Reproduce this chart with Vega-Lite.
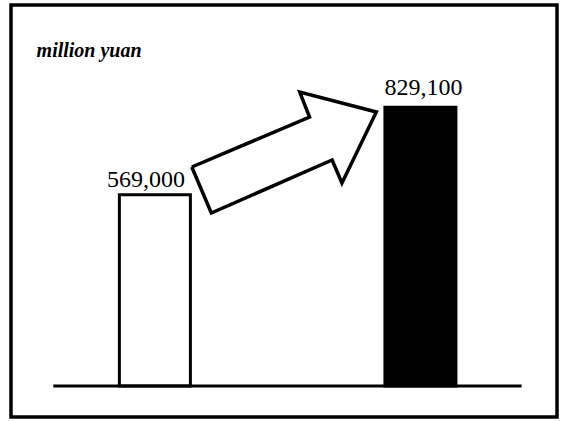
{
  "$schema": "https://vega.github.io/schema/vega-lite/v6.json",
  "width": 561,
  "height": 421,
  "autosize": {"type": "fit", "contains": "padding"},
  "padding": {"left": 11, "top": 5, "right": 4, "bottom": 4},
  "background": "white",
  "config": {
    "view": {"stroke": "black", "strokeWidth": 3.5},
    "text": {"font": "Liberation Serif", "color": "black"}
  },
  "datasets": {
    "bars": [
      {"pos": 1, "value": 569000, "label": "569,000"},
      {"pos": 3, "value": 829100, "label": "829,100"}
    ],
    "arrow": [
      {"k": 1, "x": 1.278, "y": 651500},
      {"k": 2, "x": 1.425, "y": 514700},
      {"k": 3, "x": 2.335, "y": 672300},
      {"k": 4, "x": 2.409, "y": 603900},
      {"k": 5, "x": 2.668, "y": 815200},
      {"k": 6, "x": 2.091, "y": 874600},
      {"k": 7, "x": 2.165, "y": 800300},
      {"k": 8, "x": 1.278, "y": 651500}
    ],
    "one": [{"note": "million yuan"}]
  },
  "layer": [
    {
      "data": {"name": "bars"},
      "mark": {"type": "bar", "width": 71, "stroke": "black", "strokeWidth": 3},
      "encoding": {
        "x": {"field": "pos", "type": "quantitative", "axis": null, "scale": {"domain": [-0.046, 3.991], "nice": false, "zero": false}},
        "y": {"field": "value", "type": "quantitative", "axis": null, "scale": {"domain": [-92225, 1133475], "nice": false, "zero": false}},
        "fill": {"field": "label", "type": "nominal", "legend": null, "scale": {"domain": ["569,000", "829,100"], "range": ["white", "black"]}}
      }
    },
    {
      "data": {"name": "one"},
      "mark": {"type": "rule", "stroke": "black", "strokeWidth": 3},
      "encoding": {
        "x": {"datum": 0.235, "type": "quantitative", "axis": null, "scale": {"domain": [-0.046, 3.991], "nice": false, "zero": false}},
        "x2": {"datum": 3.762},
        "y": {"datum": 0, "type": "quantitative", "axis": null, "scale": {"domain": [-92225, 1133475], "nice": false, "zero": false}}
      }
    },
    {
      "data": {"name": "arrow"},
      "mark": {"type": "line", "stroke": "black", "strokeWidth": 3.5, "strokeJoin": "miter"},
      "encoding": {
        "x": {"field": "x", "type": "quantitative", "axis": null, "scale": {"domain": [-0.046, 3.991], "nice": false, "zero": false}},
        "y": {"field": "y", "type": "quantitative", "axis": null, "scale": {"domain": [-92225, 1133475], "nice": false, "zero": false}},
        "order": {"field": "k", "type": "quantitative"}
      }
    },
    {
      "data": {"name": "bars"},
      "transform": [{"filter": "datum.pos == 1"}],
      "mark": {"type": "text", "fontSize": 24, "align": "center", "baseline": "alphabetic", "dx": -9, "dy": -8},
      "encoding": {
        "x": {"field": "pos", "type": "quantitative", "axis": null, "scale": {"domain": [-0.046, 3.991], "nice": false, "zero": false}},
        "y": {"field": "value", "type": "quantitative", "axis": null, "scale": {"domain": [-92225, 1133475], "nice": false, "zero": false}},
        "text": {"field": "label"}
      }
    },
    {
      "data": {"name": "bars"},
      "transform": [{"filter": "datum.pos == 3"}],
      "mark": {"type": "text", "fontSize": 24, "align": "center", "baseline": "alphabetic", "dx": 3, "dy": -12},
      "encoding": {
        "x": {"field": "pos", "type": "quantitative", "axis": null, "scale": {"domain": [-0.046, 3.991], "nice": false, "zero": false}},
        "y": {"field": "value", "type": "quantitative", "axis": null, "scale": {"domain": [-92225, 1133475], "nice": false, "zero": false}},
        "text": {"field": "label"}
      }
    },
    {
      "data": {"name": "one"},
      "mark": {"type": "text", "fontSize": 20, "fontWeight": "bold", "fontStyle": "italic", "align": "left", "baseline": "alphabetic"},
      "encoding": {
        "x": {"datum": 0.109, "type": "quantitative", "axis": null, "scale": {"domain": [-0.046, 3.991], "nice": false, "zero": false}},
        "y": {"datum": 980000, "type": "quantitative", "axis": null, "scale": {"domain": [-92225, 1133475], "nice": false, "zero": false}},
        "text": {"field": "note"}
      }
    }
  ]
}
